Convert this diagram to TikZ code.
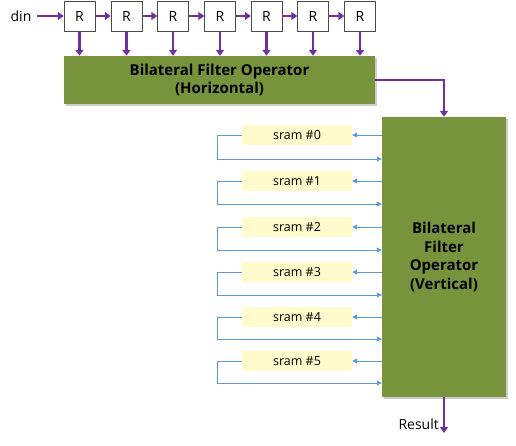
\documentclass[tikz,border=0pt]{standalone}
\usepackage{fontspec}
\setmainfont{Open Sans}
\usepackage{tikz}
\usetikzlibrary{calc,positioning,arrows.meta,shadows}

\definecolor{opgreen}{HTML}{77933C}
\definecolor{wirepurple}{HTML}{7030A0}
\definecolor{wireblue}{HTML}{5B9BD5}
\definecolor{sramfill}{HTML}{FFFBCC}

\begin{document}
\begin{tikzpicture}[x=1pt,y=-1pt,
  reg/.style={draw=black!70,fill=white,minimum width=31pt,minimum height=30pt,inner sep=0pt,font=\fontsize{14}{16}\selectfont},
  op/.style={fill=opgreen,inner sep=0pt,align=center,font=\fontsize{15}{18.5}\selectfont\bfseries,
    drop shadow={shadow xshift=2pt,shadow yshift=-2pt,fill=black!40}},
  mem/.style={fill=sramfill,minimum width=110pt,minimum height=20pt,inner sep=0pt,font=\fontsize{12.5}{14}\selectfont},
  pw/.style={wirepurple,line width=2.6pt,-{Triangle[length=6pt,width=8pt]}},
  bw/.style={wireblue,line width=0.9pt,-{Triangle[length=5pt,width=5pt]}}]
  \useasboundingbox (0,0) rectangle (516,445);

  \node[font=\fontsize{14}{16}\selectfont,inner sep=1pt] (din) at (21,16) {din};
  \node[reg] (r1) at (79.5,16) {R};
  \node[reg] (r2) at (126.5,16) {R};
  \node[reg] (r3) at (173,16) {R};
  \node[reg] (r4) at (220,16) {R};
  \node[reg] (r5) at (266.5,16) {R};
  \node[reg] (r6) at (313,16) {R};
  \node[reg] (r7) at (360,16) {R};

  \node[op,minimum width=311pt,minimum height=48pt] (hop) at (219.5,80) {Bilateral Filter Operator\\(Horizontal)};
  \node[op,minimum width=124pt,minimum height=280pt] (vop) at (444,257) {Bilateral\\Filter\\Operator\\(Vertical)};

  \node[mem] (s0) at (297,135) {sram \#0};
  \node[mem] (s1) at (297,181) {sram \#1};
  \node[mem] (s2) at (297,227) {sram \#2};
  \node[mem] (s3) at (297,272) {sram \#3};
  \node[mem] (s4) at (297,317) {sram \#4};
  \node[mem] (s5) at (297,361) {sram \#5};

  \coordinate (res) at (444,433);
  \node[anchor=east,font=\fontsize{14}{16}\selectfont,inner sep=1pt] (reslbl) at (440,424) {Result};

  % shift chain
  \draw[pw,shorten <=4pt] (din.east |- r1.west) -- (r1.west);
  \draw[pw] (r1) -- (r2);
  \draw[pw] (r2) -- (r3);
  \draw[pw] (r3) -- (r4);
  \draw[pw] (r4) -- (r5);
  \draw[pw] (r5) -- (r6);
  \draw[pw] (r6) -- (r7);

  % taps into horizontal filter
  \draw[pw] (r1.south) -- (r1.south |- hop.north);
  \draw[pw] (r2.south) -- (r2.south |- hop.north);
  \draw[pw] (r3.south) -- (r3.south |- hop.north);
  \draw[pw] (r4.south) -- (r4.south |- hop.north);
  \draw[pw] (r5.south) -- (r5.south |- hop.north);
  \draw[pw] (r6.south) -- (r6.south |- hop.north);
  \draw[pw] (r7.south) -- (r7.south |- hop.north);

  \draw[pw] (hop.east) -| (vop.north);
  \draw[pw] (vop.south) -- (res);

  % line buffers
  \draw[bw] (vop.west |- s0.east) -- (s0.east);
  \draw[bw] (s0.west) -- ++(-24,0) -- ++(0,24) -- (vop.west |- {$(s0.east)+(0,24)$});
  \draw[bw] (vop.west |- s1.east) -- (s1.east);
  \draw[bw] (s1.west) -- ++(-24,0) -- ++(0,23) -- (vop.west |- {$(s1.east)+(0,23)$});
  \draw[bw] (vop.west |- s2.east) -- (s2.east);
  \draw[bw] (s2.west) -- ++(-24,0) -- ++(0,23) -- (vop.west |- {$(s2.east)+(0,23)$});
  \draw[bw] (vop.west |- s3.east) -- (s3.east);
  \draw[bw] (s3.west) -- ++(-24,0) -- ++(0,23) -- (vop.west |- {$(s3.east)+(0,23)$});
  \draw[bw] (vop.west |- s4.east) -- (s4.east);
  \draw[bw] (s4.west) -- ++(-24,0) -- ++(0,22) -- (vop.west |- {$(s4.east)+(0,22)$});
  \draw[bw] (vop.west |- s5.east) -- (s5.east);
  \draw[bw] (s5.west) -- ++(-24,0) -- ++(0,22) -- (vop.west |- {$(s5.east)+(0,22)$});
\end{tikzpicture}
\end{document}
